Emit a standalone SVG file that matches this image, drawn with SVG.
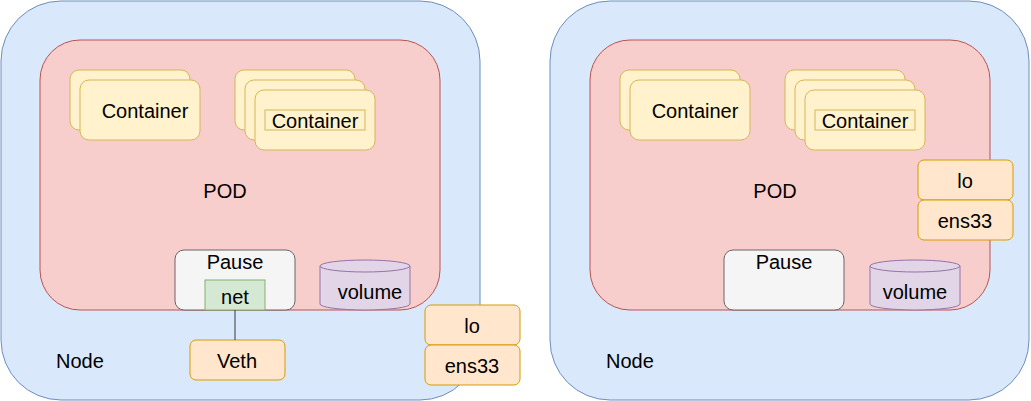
<svg xmlns="http://www.w3.org/2000/svg" width="1031" height="401" viewBox="0 0 1031 401">
<style>
text{font-family:"Liberation Sans",Arial,sans-serif;font-size:20px;fill:#000;text-anchor:middle;dominant-baseline:central}
.node{fill:#dae8fc;stroke:#6c8ebf}
.pod{fill:#f8cecc;stroke:#b85450}
.ct{fill:#fff2cc;stroke:#d6b656}
.lbl{fill:none;stroke:#d6b656}
.pause{fill:#f5f5f5;stroke:#666666}
.net{fill:#d5e8d4;stroke:#82b366}
.vol{fill:#e1d5e7;stroke:#9673a6}
.if{fill:#ffe6cc;stroke:#d79b00}
.nl{text-anchor:start}
</style>
<g id="node-left">
<rect class="node" x="1" y="1" width="479" height="399" rx="60"/>
<text class="nl" x="56" y="361">Node</text>
</g>
<g id="pod-left">
<rect class="pod" x="40" y="40" width="400" height="270" rx="40"/>
<text x="225" y="191">POD</text>
</g>
<g id="container-left-1">
<rect class="ct" x="70" y="70" width="120" height="60" rx="9"/>
<rect class="ct" x="80" y="80" width="120" height="60" rx="9"/>
<text x="145" y="111">Container</text>
</g>
<g id="container-left-2">
<rect class="ct" x="235" y="70" width="120" height="60" rx="9"/>
<rect class="ct" x="245" y="80" width="120" height="60" rx="9"/>
<rect class="ct" x="255" y="90" width="120" height="60" rx="9"/>
<rect class="lbl" x="265" y="110" width="100" height="20"/>
<text x="315" y="121">Container</text>
</g>
<g id="pause-left">
<rect class="pause" x="175" y="250" width="120" height="60" rx="9"/>
<text x="235" y="262">Pause</text>
</g>
<g id="net-left">
<rect class="net" x="205" y="280" width="60" height="30"/>
<text x="235" y="297">net</text>
</g>
<g id="volume-left">
<path class="vol" d="M320,266 A45,6 0 0 1 410,266 L410,304 A45,6 0 0 1 320,304 Z"/>
<path class="vol" fill="none" d="M320,266 A45,6 0 0 0 410,266"/>
<text x="370" y="292">volume</text>
</g>
<g id="veth-left">
<rect class="if" x="190" y="340" width="95" height="40" rx="6"/>
<text x="237" y="361">Veth</text>
</g>
<g id="lo-left">
<rect class="if" x="425" y="305" width="95" height="40" rx="6"/>
<text x="472" y="326">lo</text>
</g>
<g id="ens33-left">
<rect class="if" x="425" y="345" width="95" height="40" rx="6"/>
<text x="472" y="366">ens33</text>
</g>
<g id="node-right">
<rect class="node" x="550" y="1" width="479" height="399" rx="60"/>
<text class="nl" x="606" y="361">Node</text>
</g>
<g id="pod-right">
<rect class="pod" x="590" y="40" width="400" height="270" rx="40"/>
<text x="775" y="191">POD</text>
</g>
<g id="container-right-1">
<rect class="ct" x="620" y="70" width="120" height="60" rx="9"/>
<rect class="ct" x="630" y="80" width="120" height="60" rx="9"/>
<text x="695" y="111">Container</text>
</g>
<g id="container-right-2">
<rect class="ct" x="785" y="70" width="120" height="60" rx="9"/>
<rect class="ct" x="795" y="80" width="120" height="60" rx="9"/>
<rect class="ct" x="805" y="90" width="120" height="60" rx="9"/>
<rect class="lbl" x="815" y="110" width="100" height="20"/>
<text x="865" y="121">Container</text>
</g>
<g id="lo-right">
<rect class="if" x="918" y="160" width="95" height="40" rx="6"/>
<text x="965" y="181">lo</text>
</g>
<g id="ens33-right">
<rect class="if" x="918" y="200" width="95" height="40" rx="6"/>
<text x="965" y="221">ens33</text>
</g>
<g id="pause-right">
<rect class="pause" x="724" y="250" width="120" height="60" rx="9"/>
<text x="784" y="262">Pause</text>
</g>
<g id="volume-right">
<path class="vol" d="M870,266 A45,6 0 0 1 960,266 L960,304 A45,6 0 0 1 870,304 Z"/>
<path class="vol" fill="none" d="M870,266 A45,6 0 0 0 960,266"/>
<text x="915" y="292">volume</text>
</g>
<g id="connectors">
<line x1="235" y1="310" x2="235" y2="340" stroke="#36393d" stroke-width="1"/>
</g>
</svg>
